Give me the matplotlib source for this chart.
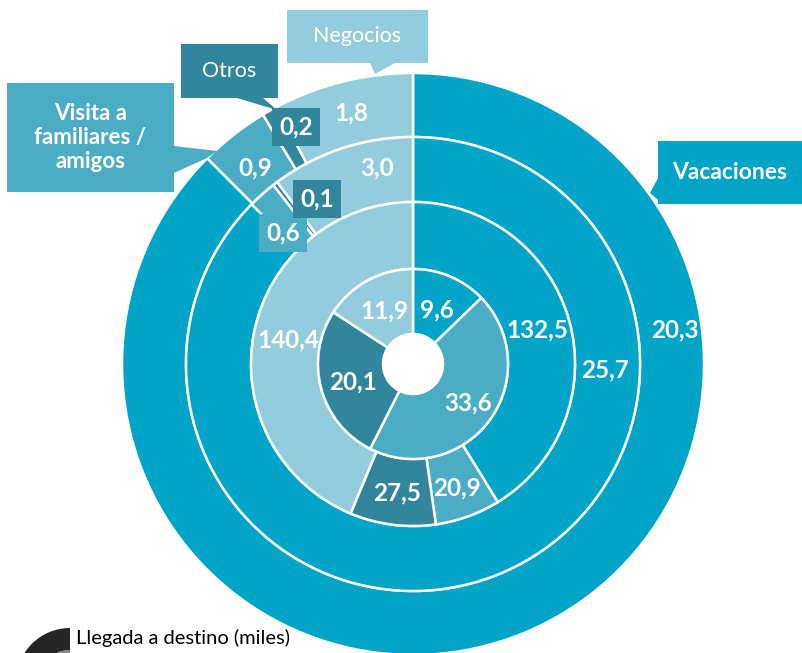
import matplotlib
matplotlib.use("Agg")
import matplotlib.pyplot as plt
from matplotlib.patches import Rectangle, Polygon, Wedge

plt.rcParams['font.family'] = ['Lato', 'DejaVu Sans']

# data (miles de llegadas), clockwise from 12 o'clock
categorias = ['Vacaciones', 'Visita a familiares / amigos', 'Otros', 'Negocios']
anillo_1 = [20.3, 0.9, 0.2, 1.8]      # outer ring
anillo_2 = [25.7, 0.6, 0.1, 3.0]
anillo_3 = [132.5, 20.9, 27.5, 140.4]
anillo_4 = [9.6, 33.6, 20.1, 11.9]    # inner ring
etiquetas = [['20,3', '0,9', '0,2', '1,8'],
             ['25,7', '0,6', '0,1', '3,0'],
             ['132,5', '20,9', '27,5', '140,4'],
             ['9,6', '33,6', '20,1', '11,9']]

colores = ['#02A4C7', '#4BACC6', '#31859C', '#93CDDD']

W, H = 802, 653
cx, cy = 413, 364
radios = [291, 227, 162, 95]
ancho = [64, 65, 67, 65]

fig = plt.figure(figsize=(W / 100, H / 100), dpi=100)
ax = fig.add_axes([0, 0, 1, 1])

def Y(y):
    return H - y

for vals, r, w in zip([anillo_1, anillo_2, anillo_3, anillo_4], radios, ancho):
    ax.pie(vals, radius=r, center=(cx, Y(cy)), startangle=90, counterclock=False,
           colors=colores, wedgeprops=dict(width=w, edgecolor='white', linewidth=1.8))

# value label positions (pixels from top-left) and whether they get a box
pos_etiquetas = [[(675, 330), (255, 168), (296, 127), (351, 113)],
                 [(605, 370), (283, 233), (317, 199), (377, 168)],
                 [(537, 330), (457, 488), (397, 493), (288, 340)],
                 [(437, 310), (468, 403), (353, 382), (384, 311)]]
con_caja = {(0, 2), (1, 1), (1, 2)}

for i, fila in enumerate(etiquetas):
    for j, txt in enumerate(fila):
        x, y = pos_etiquetas[i][j]
        bbox = None
        if (i, j) in con_caja:
            bbox = dict(boxstyle='square,pad=0.3', fc=colores[j], ec='none')
        ax.text(x, Y(y), txt, ha='center', va='center', color='white',
                fontsize=17.5, fontweight='bold', bbox=bbox, zorder=5)

# category callouts: box (x0, y0, x1, y1), pointer polygon, text, weight, size
callouts = [
    (0, (658, 141, 802, 204), [(658, 178), (650, 193), (658, 200)], 'Vacaciones', 'bold', 16.5),
    (1, (7, 83, 174, 192), [(174, 146), (217, 151), (207, 158), (174, 173)],
     'Visita a\nfamiliares /\namigos', 'bold', 16),
    (2, (181, 44, 278, 98), [(237, 98), (277, 110), (263, 98)], 'Otros', 'normal', 15.5),
    (3, (287, 10, 428, 63), [(370, 63), (375, 74), (395, 63)], 'Negocios', 'normal', 15.5),
]
for k, (x0, y0, x1, y1), poly, txt, fw, fs in callouts:
    ax.add_patch(Rectangle((x0, Y(y1)), x1 - x0, y1 - y0, fc=colores[k], ec='none', zorder=6))
    ax.add_patch(Polygon([(px, Y(py)) for px, py in poly], closed=True,
                         fc=colores[k], ec='none', zorder=6))
    ax.text((x0 + min(x1, 808)) / 2, Y((y0 + y1) / 2), txt, ha='center', va='center',
            color='white', fontsize=fs, fontweight=fw, linespacing=1.2, zorder=7)

# legend icon + text bottom-left
ax.add_patch(Wedge((70, Y(682)), 54, 90, 180, width=22, fc='#262626', ec='none'))
ax.add_patch(Wedge((70, Y(682)), 32, 90, 180, fc='#7f7f7f', ec='none'))
ax.text(76, Y(638), 'Llegada a destino (miles)', ha='left', va='center',
        fontsize=14.5, color='black')

ax.set_xlim(0, W)
ax.set_ylim(0, H)
ax.set_aspect('equal')
ax.axis('off')

fig.savefig('out.png', dpi=100)
